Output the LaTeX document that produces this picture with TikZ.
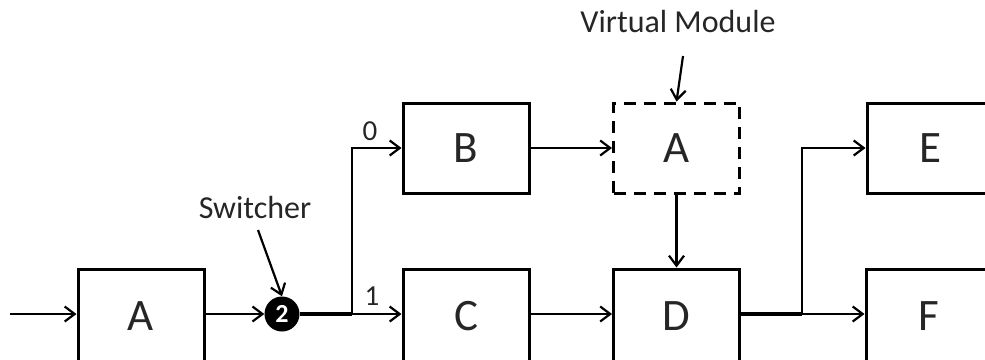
\documentclass[tikz,border=0pt]{standalone}
\usepackage{fontspec}
\setmainfont{Carlito}
\usetikzlibrary{arrows.meta}
\begin{document}
\begin{tikzpicture}[x=1pt,y=-1pt,
  blk/.style={draw, line width=3pt, minimum width=126pt, minimum height=90pt, inner sep=0pt, font=\fontsize{45}{47}\selectfont, text=black!85},
  lowblk/.style={blk, minimum height=98pt},
  vblk/.style={blk, dash pattern=on 12pt off 8pt},
  conn/.style={line width=2.2pt, -{Straight Barb[length=10pt,width=15pt,line width=2.2pt]}},
  thick line/.style={line width=3.2pt},
  lbl/.style={font=\fontsize{32}{34}\selectfont, text=black!85, inner sep=0pt},
  num/.style={font=\fontsize{29}{31}\selectfont, text=black!85, inner sep=0pt}]
\useasboundingbox (0,0) rectangle (985,359);
% blocks
\node[lowblk] (A1) at (141,318) {\raisebox{4pt}{A}};
\node[blk] (B) at (466,148) {B};
\node[vblk] (VA) at (676.5,148) {A};
\node[lowblk] (C) at (466,318) {\raisebox{4pt}{C}};
\node[lowblk] (D) at (676.5,318) {\raisebox{4pt}{D}};
\node[blk] (E) at (930,148) {E};
\node[lowblk] (F) at (929,318) {\raisebox{4pt}{F}};
% switcher
\node[circle, fill=black, minimum size=35pt, inner sep=0pt, text=white, font=\bfseries\fontsize{26}{26}\selectfont] (SW) at (282,314) {2};
% labels
\node[lbl] (swl) at (255,208) {Switcher};
\node[lbl] (vml) at (678,22) {Virtual Module};
\node[num] (l0) at (370,131) {0};
\node[num] (l1) at (372,296) {1};
% coordinates
\coordinate (in) at (10,314);
\coordinate (br1) at (352,314);
\coordinate (br2) at (802,314);
\coordinate (swa) at (258,230);
\coordinate (vma) at (683,56);
% connectors
\draw[conn] (in) -- (A1.west |- in);
\draw[conn] (A1.east |- in) -- (SW.west);
\draw[thick line] (SW.east) -- (br1);
\draw[conn] (br1) -- (C.west |- br1);
\draw[conn] (br1) |- (B.west);
\draw[conn] (B.east) -- (VA.west);
\draw[conn] (VA.south) -- (D.north);
\draw[conn] (C.east |- br1) -- (D.west |- br1);
\draw[thick line] (D.east |- br2) -- (br2);
\draw[conn] (br2) -- (F.west |- br2);
\draw[conn] (br2) |- (E.west);
\draw[conn] (swa) -- (SW.north);
\draw[conn] (vma) -- (VA.north);
\end{tikzpicture}
\end{document}
